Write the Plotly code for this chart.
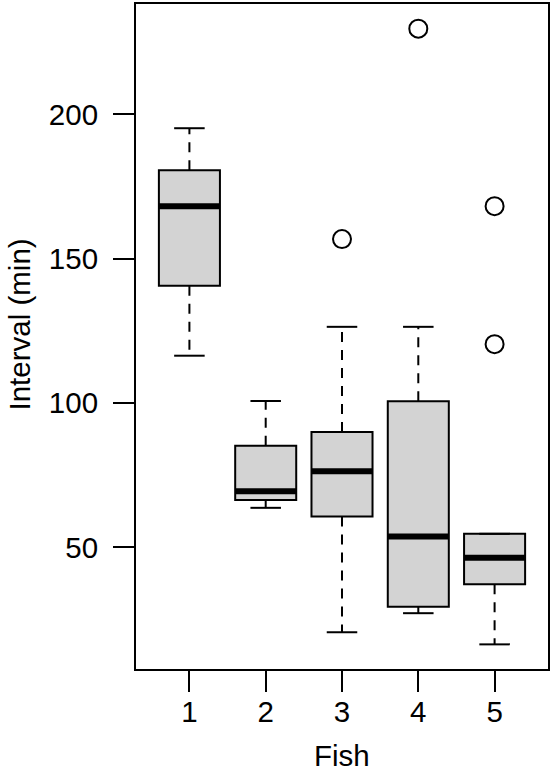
import plotly.graph_objects as go

# ---- data ----
fish = [1, 2, 3, 4, 5]
tick_labels = ["1", "2", "3", "4", "5"]
lower_whisker = [116.4, 63.7, 20.6, 27.2, 16.4]
q1 = [140.6, 66.4, 60.7, 29.4, 37.2]
median = [168.2, 69.4, 76.4, 53.8, 46.4]
q3 = [180.6, 85.2, 90.0, 100.6, 54.7]
upper_whisker = [195.2, 100.7, 126.4, 126.4, 54.7]
outlier_x = [3, 4, 5, 5]
outlier_y = [156.8, 229.7, 168.2, 120.4]
y_ticks = [50, 100, 150, 200]

BOX_W = 0.8
CAP_W = 0.4
FONT = "Liberation Sans, Arial, Helvetica, sans-serif"
FS = 29.5


def segs(xs0, xs1, ys0, ys1):
    X, Y = [], []
    for a, b, c, d in zip(xs0, xs1, ys0, ys1):
        X += [a, b, None]
        Y += [c, d, None]
    return X, Y


fig = go.Figure()

# boxes
fig.add_trace(go.Bar(
    x=fish, y=[b - a for a, b in zip(q1, q3)], base=q1, width=BOX_W,
    marker=dict(color="#d3d3d3", line=dict(color="black", width=2)),
    showlegend=False, hoverinfo="skip"))

# whiskers (dashed)
wx, wy = segs(fish + fish, fish + fish, q3 + q1, upper_whisker + lower_whisker)
fig.add_trace(go.Scatter(x=wx, y=wy, mode="lines",
                         line=dict(color="black", width=2, dash="10px,8px"),
                         showlegend=False, hoverinfo="skip"))

# caps
cx, cy = segs([f - CAP_W / 2 for f in fish] * 2, [f + CAP_W / 2 for f in fish] * 2,
              upper_whisker + lower_whisker, upper_whisker + lower_whisker)
fig.add_trace(go.Scatter(x=cx, y=cy, mode="lines",
                         line=dict(color="black", width=2),
                         showlegend=False, hoverinfo="skip"))

# medians
mx, my = segs([f - BOX_W / 2 for f in fish], [f + BOX_W / 2 for f in fish], median, median)
fig.add_trace(go.Scatter(x=mx, y=my, mode="lines",
                         line=dict(color="black", width=6),
                         showlegend=False, hoverinfo="skip"))

# outliers
fig.add_trace(go.Scatter(x=outlier_x, y=outlier_y, mode="markers",
                         marker=dict(symbol="circle-open", size=18, color="black",
                                     line=dict(width=2, color="black")),
                         showlegend=False, hoverinfo="skip"))

all_y = lower_whisker + upper_whisker + outlier_y
lo, hi = min(all_y), max(all_y)
pad = 0.04 * (hi - lo)
n = len(fish)
xpad = 0.04 * n

fig.update_layout(
    width=552, height=775,
    margin=dict(l=136, r=4, t=2, b=106),
    plot_bgcolor="white", paper_bgcolor="white",
    font=dict(family=FONT, size=FS, color="black"),
    xaxis=dict(range=[0.5 - xpad, n + 0.5 + xpad], tickvals=fish, ticktext=tick_labels,
               showline=True, mirror=True, linecolor="black", linewidth=2,
               ticks="outside", ticklen=21, tickwidth=2, tickcolor="black",
               showgrid=False, zeroline=False, ticklabelstandoff=-5,
               tickfont=dict(family=FONT, size=FS, color="black")),
    yaxis=dict(range=[lo - pad, hi + pad], tickvals=y_ticks,
               showline=True, mirror=True, linecolor="black", linewidth=2,
               ticks="outside", ticklen=21, tickwidth=2, tickcolor="black",
               showgrid=False, zeroline=False, ticklabelstandoff=9,
               tickfont=dict(family=FONT, size=FS, color="black")),
    annotations=[
        dict(text="Fish", xref="paper", yref="paper", x=0.5, y=0, yshift=-86,
             showarrow=False, xanchor="center", yanchor="middle",
             font=dict(family=FONT, size=FS, color="black")),
        dict(text="Interval (min)", xref="paper", yref="paper", x=0, xshift=-117,
             y=0.5, yshift=12,
             textangle=-90, showarrow=False, xanchor="center", yanchor="middle",
             font=dict(family=FONT, size=FS, color="black")),
    ],
)

fig.write_html("out.html")
